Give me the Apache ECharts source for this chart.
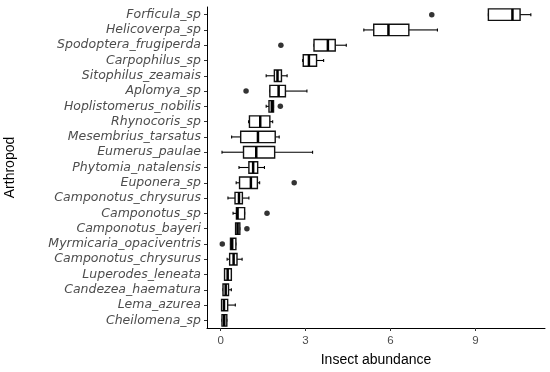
<!DOCTYPE html>
<html><head><meta charset="utf-8">
<script src="https://cdn.jsdelivr.net/npm/echarts@6/dist/echarts.min.js"></script>
<style>html,body{margin:0;padding:0;background:#fff}#c{width:550px;height:372px}</style>
</head><body><div id="c"></div>
<script>
var categories = ["Forficula_sp","Helicoverpa_sp","Spodoptera_frugiperda","Carpophilus_sp","Sitophilus_zeamais","Aplomya_sp","Hoplistomerus_nobilis","Rhynocoris_sp","Mesembrius_tarsatus","Eumerus_paulae","Phytomia_natalensis","Euponera_sp","Camponotus_chrysurus","Camponotus_sp","Camponotus_bayeri","Myrmicaria_opaciventris","Camponotus_chrysurus\u200b","Luperodes_leneata","Candezea_haematura","Lema_azurea","Cheilomena_sp"];
var lows    = [9.46,5.06,3.30,2.90,1.61,1.74,1.61,0.99,0.39,0.05,0.65,0.55,0.26,0.44,0.53,0.35,0.23,0.14,0.085,0.035,0.05];
var q1s     = [9.46,5.41,3.30,2.92,1.90,1.74,1.71,1.02,0.71,0.81,1.00,0.67,0.51,0.56,0.53,0.35,0.32,0.14,0.085,0.035,0.05];
var medians = [10.31,5.93,3.79,3.12,2.01,2.05,1.81,1.40,1.32,1.26,1.15,1.07,0.65,0.60,0.60,0.41,0.46,0.25,0.18,0.12,0.13];
var q3s     = [10.58,6.65,4.05,3.39,2.15,2.29,1.87,1.74,1.93,1.91,1.31,1.30,0.77,0.85,0.68,0.54,0.58,0.38,0.28,0.25,0.22];
var highs   = [10.96,7.66,4.44,3.64,2.35,3.05,1.87,1.84,2.07,3.25,1.55,1.38,1.00,0.85,0.68,0.54,0.76,0.38,0.38,0.52,0.22];
var outlierValues = [7.46,2.13,0.90,2.11,2.60,1.64,0.93,0.06];
var outlierRows   = ["Forficula_sp","Spodoptera_frugiperda","Aplomya_sp","Hoplistomerus_nobilis","Euponera_sp","Camponotus_sp","Camponotus_bayeri","Myrmicaria_opaciventris"];
var xTicks = [0,3,6,9];
</script>
<script>
var boxData = categories.map(function(c,i){return [i,lows[i],q1s[i],medians[i],q3s[i],highs[i]];});
var outData = outlierValues.map(function(v,i){return [v,outlierRows[i]];});
var chart = echarts.init(document.getElementById('c'),null,{renderer:'canvas'});
function renderBox(params, api){
  var i = api.value(0);
  var lo=api.coord([api.value(1),i]), a=api.coord([api.value(2),i]), m=api.coord([api.value(3),i]), b=api.coord([api.value(4),i]), hi=api.coord([api.value(5),i]);
  var h = api.size([0,1])[1]*0.75;
  var y = a[1];
  var ln = {stroke:'#000',lineWidth:1.1};
  return {type:'group',children:[
    {type:'line',shape:{x1:lo[0],y1:y,x2:a[0],y2:y},style:ln},
    {type:'line',shape:{x1:b[0],y1:y,x2:hi[0],y2:y},style:ln},
    {type:'line',shape:{x1:lo[0],y1:y-1.5,x2:lo[0],y2:y+1.5},style:ln},
    {type:'line',shape:{x1:hi[0],y1:y-1.5,x2:hi[0],y2:y+1.5},style:ln},
    {type:'rect',shape:{x:a[0],y:y-h/2,width:Math.max(b[0]-a[0],0.5),height:h},style:{fill:'#fff',stroke:'#111',lineWidth:1.4}},
    {type:'line',shape:{x1:m[0],y1:y-h/2,x2:m[0],y2:y+h/2},style:{stroke:'#000',lineWidth:2.5}}
  ]};
}
chart.setOption({
  animation:false,
  grid:{left:207,right:5,top:7,bottom:44,containLabel:false,outerBoundsMode:'none'},
  xAxis:{type:'value',min:-0.48,max:11.46,
    name:'Insect abundance',nameLocation:'middle',nameGap:25,
    nameTextStyle:{fontFamily:'Liberation Sans',fontSize:14,color:'#000'},
    axisLine:{show:true,onZero:false,lineStyle:{color:'#000',width:1}},
    axisTick:{show:true,length:3,lineStyle:{color:'#333'},customValues:xTicks},
    axisLabel:{fontFamily:'Liberation Sans',fontSize:11.5,color:'#4d4d4d',margin:7,customValues:xTicks},
    splitLine:{show:false}},
  yAxis:{type:'category',data:categories,inverse:true,
    name:'Arthropod',nameLocation:'middle',nameGap:190,nameRotate:90,
    nameTextStyle:{fontFamily:'Liberation Sans',fontSize:14,color:'#000'},
    axisLine:{show:true,onZero:false,lineStyle:{color:'#000',width:1}},
    axisTick:{show:true,length:3,alignWithLabel:true,lineStyle:{color:'#333'}},
    axisLabel:{fontFamily:'DejaVu Sans',fontStyle:'italic',fontSize:12.5,color:'#4d4d4d',margin:6,interval:0},
    splitLine:{show:false}},
  series:[
    {type:'custom',renderItem:renderBox,data:boxData,encode:{x:[1,2,3,4,5],y:0},z:2},
    {type:'scatter',data:outData,symbolSize:5.5,itemStyle:{color:'#333',opacity:1},z:3}
  ]
});
</script>
</body></html>
